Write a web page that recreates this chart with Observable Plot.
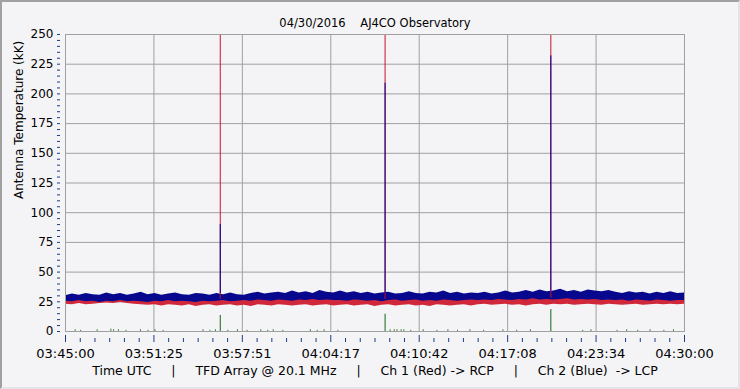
<!DOCTYPE html>
<html><head><meta charset="utf-8">
<script src="https://cdn.jsdelivr.net/npm/d3@7"></script>
<script src="https://cdn.jsdelivr.net/npm/@observablehq/plot@0.6"></script>
<style>
body{margin:0;background:#f4f4f7;}
#wrap{position:relative;width:740px;height:389px;overflow:hidden;background:#f4f4f7;}
#border{position:absolute;left:0;top:0;width:736px;height:385px;border-top:2px solid #a0a0a0;border-left:2px solid #a0a0a0;border-right:2px solid #e4e4e6;border-bottom:2px solid #e4e4e6;pointer-events:none;}
svg text{white-space:pre;}
</style></head><body><div id="wrap"><div id="border"></div></div>
<script>
// ---- text ----
const chartTitle = "04/30/2016    AJ4CO Observatory";
const yLabel = "Antenna Temperature (kK)";
const caption = "Time UTC     |     TFD Array @ 20.1 MHz     |     Ch 1 (Red) -> RCP     |     Ch 2 (Blue)  -> LCP";

// ---- axes ----
const startTime = "03:45:00";
const endTime = "04:30:00";
const xTickLabels = ["03:45:00","03:51:25","03:57:51","04:04:17","04:10:42","04:17:08","04:23:34","04:30:00"];
const xMinorPerMajor = 6;
const yMax = 250;
const yMajorStep = 25;
const yMinorStep = 5;

// ---- noise band envelope, one value per 30 s from 03:45:00 ----
const bandStepSec = 30;
const blueHi = [30,31.5,30.5,32,31,30.5,32.5,31,32,30.5,31.5,33,31,32,30.5,31.5,32.5,31,30.5,32,31.5,
  30.5,32,31,32.5,31,30.5,32,33,31.5,32.5,33,32,34,32.5,33.5,32,34.5,33,32.5,
  34,32.5,33.5,32,33,31.5,32.5,33,31.5,32,33.5,32,31.5,33,32.5,34,32,33,31.5,32.5,
  32,33,31.5,32.5,34,32.5,33,34.5,33,35,33.5,34,35.5,33.5,34.5,33,35,34,33.5,34.5,
  33,32,33.5,32.5,33,31.5,33,32,33.5,32,32.5];
const blueLo = [25.5,25,26,25,25.5,24.5,25.5,25,26,25,25.5,25,24.5,25.5,25,26,25,25.5,25,24.5,25.5,
  25,25.5,26,25,25.5,26,25.5,26.5,26,25.5,26.5,26,25.5,26.5,26,27,26,26.5,26,
  26,25.5,26.5,26,25.5,26,25,26,26.5,25.5,26,26.5,25.5,26,25.5,26.5,26,25.5,26,26.5,
  26,26.5,26,27,26.5,26,27,26.5,27.5,26.5,27,26.5,27,27.5,26.5,27,26.5,27,26,26.5,
  26,26.5,25.5,26.5,26,25.5,26.5,26,25.5,26,26];
const redHi = [27,27.5,27,28,27.5,28.5,28,28.5,27.5,27,27.5,27,26.5,27.5,27,27,26.5,27,27.5,26.5,27,
  27,26.5,27,27.5,27,26.5,27.5,27,27.5,27,28,27.5,27,27.5,28,27,27.5,27,27.5,
  27,27.5,27,26.5,27,27.5,27,27,27.5,27,27,27.5,27,26.5,27,27.5,27,27.5,27,27.5,
  27.5,28,27.5,28,28,27.5,28,28.5,28,28,28.5,28,28.5,28,28,27.5,28,28,28.5,28,
  27.5,28,27.5,27.5,28,27.5,28,28,27.5,28,28];
const redLo = [23,22.5,23.5,22.5,23,23.5,24,23.5,24.5,23.5,23,22.5,22,22.5,21.5,22.5,22,21.5,22.5,21,22,
  22.5,21.5,22,22.5,21.5,22,21,22.5,22,21.5,22.5,22,21.5,22,22.5,21.5,22,22.5,21.5,
  22,22.5,21.5,22,22.5,21,22,22.5,21.5,22,22.5,21.5,22,21,22.5,22,21.5,22,22.5,21.5,
  22.5,23,22,22.5,23,22,22.5,21.5,22.5,23,22,23,22.5,23,22,22.5,23,22.5,22,23,
  22.5,22,22.5,23,22,22.5,23,22.5,23,22.5,23];

// ---- bursts ----
const spikeTimes = ["03:56:15","04:08:14","04:20:17"];
const redSpikeBase = [27,27,28];
const redSpikePeak = [250,250,250];
const blueSpikeBase = [32,32,34];
const blueSpikePeak = [90,209,232];
const greenSpikePeak = [13.5,14.5,18.5];

// ---- faint green channel blips near zero (minutes after 03:45) ----
const greenBlipMinutes = [0.7,1.1,2.3,3.3,3.5,3.85,4.4,5.45,6.0,6.5,7.1,10.0,10.5,10.9,11.8,12.5,13.2,14.2,14.7,15.1,15.8,17.8,18.3,18.8,19.8,
  23.6,23.9,24.1,24.4,24.6,25.1,26.0,27.0,27.8,28.5,29.4,30.4,31.8,32.8,33.8,37.6,38.2,40.1,40.8,41.6,42.5,43.5,44.2];
const greenBlipValue = [1.5,1,1.5,2,1.5,1.5,1,1.5,1,1.5,1,1.5,1,1.5,1,1.5,1,1.5,1,1.5,1,1.5,1,1.5,1,
  1.5,1.5,1.5,1.5,1.5,1,1.5,1,1.5,1,1.5,1,1.5,1,1.5,1,1.5,1,1.5,1,1.5,1,1.5];

// ---- colours ----
const redColor = "#d0283a";
const blueColor = "#08088e";
const greenColor = "#11661a";
const gridColor = "#a0a0a0";

const toSec = s => { const [h,m,x] = s.split(":").map(Number); return h*3600+m*60+x; };
const t0 = toSec(startTime);
const total = toSec(endTime) - t0;
const nMaj = xTickLabels.length - 1;
const xMajor = d3.range(nMaj + 1).map(i => i * total / nMaj);
const xMinor = d3.range(nMaj * xMinorPerMajor + 1).map(i => i * total / (nMaj * xMinorPerMajor)).filter((d,i) => i % xMinorPerMajor !== 0);
const yMajor = d3.range(0, yMax + 1, yMajorStep);
const yMinor = d3.range(0, yMax + 1, yMinorStep);

const nBand = Math.min(blueHi.length, blueLo.length, redHi.length, redLo.length);
const band = d3.range(nBand).map(i => ({t: Math.min(i * bandStepSec, total), bHi: blueHi[i], bLo: blueLo[i], rHi: redHi[i], rLo: redLo[i]}));
const spikes = spikeTimes.map((s, i) => ({t: toSec(s) - t0, rb: redSpikeBase[i], rp: redSpikePeak[i], bb: blueSpikeBase[i], bp: blueSpikePeak[i], gp: greenSpikePeak[i]}));
const blips = greenBlipMinutes.map((m, i) => ({t: m * 60, v: greenBlipValue[i]}));

const font = "DejaVu Sans";
const plot = Plot.plot({
  width: 740, height: 389,
  marginLeft: 65, marginRight: 56, marginTop: 34, marginBottom: 58,
  style: {background: "transparent", fontFamily: font, color: "#000", overflow: "visible"},
  x: {type: "linear", domain: [0, total], axis: null},
  y: {domain: [0, yMax], axis: null},
  marks: [
    Plot.gridY(yMajor, {stroke: gridColor, strokeOpacity: 1}),
    Plot.gridX(xMajor, {stroke: gridColor, strokeOpacity: 1}),
    Plot.areaY(band, {x: "t", y1: "rLo", y2: "rHi", fill: redColor}),
    Plot.areaY(band, {x: "t", y1: "bLo", y2: "bHi", fill: blueColor}),
    Plot.ruleX(blips, {x: "t", y1: 0, y2: "v", stroke: greenColor, strokeOpacity: 0.8}),
    Plot.ruleX(spikes, {x: "t", y1: "rb", y2: "rp", stroke: "#c8102e"}),
    Plot.ruleX(spikes, {x: "t", y1: "bb", y2: "bp", stroke: "#000090"}),
    Plot.ruleX(spikes, {x: "t", y1: 0, y2: "gp", stroke: greenColor}),
    Plot.frame({stroke: gridColor, strokeOpacity: 1}),
    // x axis ticks + labels
    Plot.axisX(xMajor, {tickSize: 7, dy: 4, tickFormat: () => "", label: null, stroke: "#1a3a8a"}),
    Plot.axisX(xMinor, {tickSize: 4, dy: 7, tickFormat: () => "", label: null, stroke: "#1a3a8a"}),
    Plot.axisX(xMajor, {tickSize: 0, tickPadding: 17, tickFormat: (d, i) => xTickLabels[i], label: null, fontSize: 13, fill: "#000"}),
    // y axis ticks + labels
    Plot.axisY(yMinor, {tickSize: 3, dx: -5, tickFormat: () => "", label: null, stroke: "#1a3a8a"}),
    Plot.axisY(yMajor, {tickSize: 0, tickPadding: 12, tickFormat: d => String(d), label: null, fontSize: 12, fill: "#000"}),
    Plot.text([yLabel], {frameAnchor: "left", dx: -46, dy: 16, rotate: -90, fontSize: 12, fill: "#000", text: d => d}),
    Plot.text([chartTitle], {frameAnchor: "top", dy: -16, fontSize: 11.5, fill: "#000", text: d => d}),
    Plot.text([caption], {frameAnchor: "bottom", dy: 43, fontSize: 12.5, fill: "#000", text: d => d})
  ]
});
document.getElementById("wrap").insertBefore(plot, document.getElementById("border"));
</script>
</body></html>
